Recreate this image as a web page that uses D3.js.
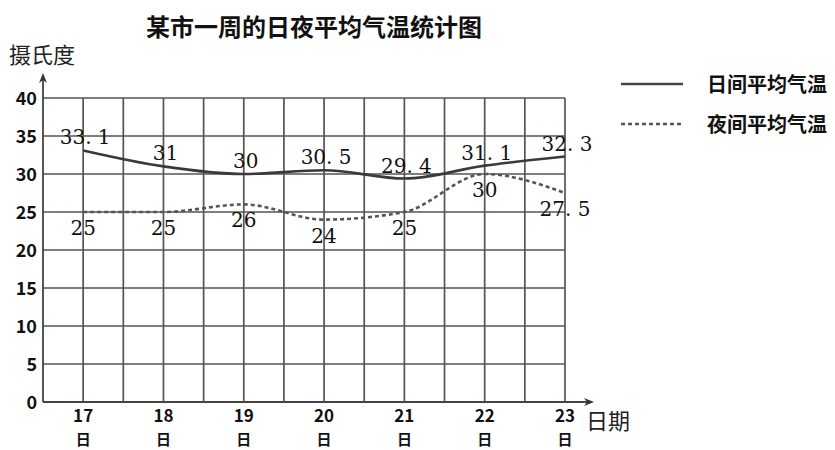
<!DOCTYPE html>
<html><head><meta charset="utf-8">
<script src="https://cdn.jsdelivr.net/npm/d3@7"></script>
<style>body{margin:0;background:#fff}svg{display:block}</style>
</head><body>
<svg id="c" width="835" height="450"></svg>
<script>
const days = ["17", "18", "19", "20", "21", "22", "23"];
const dayTemps = [33.1, 31, 30, 30.5, 29.4, 31.1, 32.3];
const nightTemps = [25, 25, 26, 24, 25, 30, 27.5];
const yTicks = [0, 5, 10, 15, 20, 25, 30, 35, 40];
const seriesNames = ["日间平均气温", "夜间平均气温"];
const titleText = "某市一周的日夜平均气温统计图";

(function () {
const svg = d3.select("#c");
const pL = 43, pR = 565, pT = 98, pB = 402;
const x = d3.scaleLinear().domain([0, 13]).range([pL, pR]);
const y = d3.scaleLinear().domain([0, 40]).range([pB, pT]);
const dayX = i => x(2 * i + 1);
const cjk = "'Noto Sans CJK SC', 'Noto Sans', sans-serif";
const serif = "'DejaVu Serif', 'Liberation Serif', serif";

// grid
const g = svg.append("g");
g.selectAll("line.v").data(d3.range(1, 14)).enter().append("line")
  .attr("x1", d => x(d)).attr("x2", d => x(d)).attr("y1", pT).attr("y2", pB)
  .attr("stroke", "#555").attr("stroke-width", 1.7);
g.selectAll("line.h").data(yTicks.filter(d => d > 0)).enter().append("line")
  .attr("x1", pL).attr("x2", pR).attr("y1", d => y(d)).attr("y2", d => y(d))
  .attr("stroke", "#555").attr("stroke-width", 1.7);

// axes with arrows
g.append("line").attr("x1", pL).attr("x2", pL).attr("y1", pB).attr("y2", 78)
  .attr("stroke", "#444").attr("stroke-width", 1.8);
g.append("path").attr("d", `M${pL},73 L${pL-4},83 L${pL},80 L${pL+4},83 Z`).attr("fill", "#333");
g.append("line").attr("x1", pL).attr("x2", 590).attr("y1", pB).attr("y2", pB)
  .attr("stroke", "#444").attr("stroke-width", 1.8);
g.append("path").attr("d", `M594,${pB} L584,${pB-4} L587,${pB} L584,${pB+4} Z`).attr("fill", "#333");

// y tick labels
g.selectAll("text.yt").data(yTicks).enter().append("text")
  .attr("x", 37).attr("y", d => y(d) + 6.5).attr("text-anchor", "end")
  .attr("font-family", cjk).attr("font-weight", "bold").attr("font-size", 18)
  .attr("fill", "#111").text(d => d);

// x tick labels
days.forEach((d, i) => {
  g.append("text").attr("x", dayX(i)).attr("y", 422).attr("text-anchor", "middle")
    .attr("font-family", cjk).attr("font-weight", "bold").attr("font-size", 17).attr("fill", "#111").text(d);
  g.append("text").attr("x", dayX(i)).attr("y", 445).attr("text-anchor", "middle")
    .attr("font-family", cjk).attr("font-weight", "bold").attr("font-size", 15).attr("fill", "#111").text("日");
});

// axis titles
svg.append("text").attr("x", 9).attr("y", 63).attr("font-family", cjk).attr("font-size", 22)
  .attr("fill", "#222").text("摄氏度");
svg.append("text").attr("x", 586).attr("y", 429).attr("font-family", cjk).attr("font-size", 22)
  .attr("fill", "#222").text("日期");

// title
svg.append("text").attr("x", 314).attr("y", 36).attr("text-anchor", "middle")
  .attr("font-family", cjk).attr("font-weight", "bold").attr("font-size", 24)
  .attr("fill", "#111").text(titleText);

// lines
const line = d3.line().x((d, i) => dayX(i)).y(d => y(d)).curve(d3.curveMonotoneX);
svg.append("path").datum(dayTemps).attr("d", line).attr("fill", "none")
  .attr("stroke", "#3a3a3a").attr("stroke-width", 2.6);
svg.append("path").datum(nightTemps).attr("d", line).attr("fill", "none")
  .attr("stroke", "#555").attr("stroke-width", 2.6).attr("stroke-dasharray", "4,3");

// value labels
const fmt = v => String(v).replace(".", ". ");
svg.selectAll("text.dl").data(dayTemps).enter().append("text")
  .attr("x", (d, i) => dayX(i) + 2).attr("y", d => y(d) - 6).attr("text-anchor", "middle")
  .attr("font-family", serif).attr("font-size", 20).attr("fill", "#111").text(fmt);
svg.selectAll("text.nl").data(nightTemps).enter().append("text")
  .attr("x", (d, i) => dayX(i)).attr("y", d => y(d) + 23).attr("text-anchor", "middle")
  .attr("font-family", serif).attr("font-size", 20).attr("fill", "#111").text(fmt);

// legend
const lg = svg.append("g");
lg.append("line").attr("x1", 621).attr("x2", 683).attr("y1", 84).attr("y2", 84)
  .attr("stroke", "#444").attr("stroke-width", 2.6);
lg.append("line").attr("x1", 621).attr("x2", 683).attr("y1", 124).attr("y2", 124)
  .attr("stroke", "#555").attr("stroke-width", 2.6).attr("stroke-dasharray", "4,3");
seriesNames.forEach((n, i) => {
  lg.append("text").attr("x", 707).attr("y", 92 + i * 40).attr("font-family", cjk)
    .attr("font-weight", "bold").attr("font-size", 20).attr("fill", "#111").text(n);
});
})();
</script>
</body></html>
